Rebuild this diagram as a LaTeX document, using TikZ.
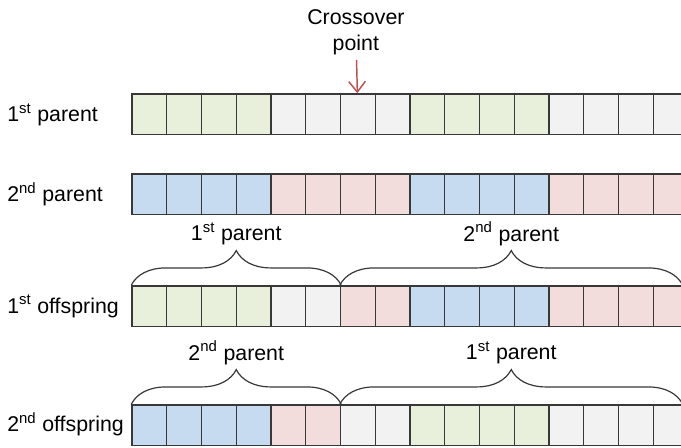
\documentclass[tikz,border=0pt]{standalone}
\usepackage{fontspec}
\setmainfont{Liberation Sans}
\usetikzlibrary{positioning,arrows.meta,decorations.pathreplacing}

\definecolor{geneg}{HTML}{E8F0DC}
\definecolor{genew}{HTML}{F2F2F2}
\definecolor{geneb}{HTML}{C6DAF0}
\definecolor{genep}{HTML}{F2DCDC}
\definecolor{cellline}{HTML}{383838}
\definecolor{cutred}{HTML}{C0504D}

\tikzset{
  cell/.style={draw=cellline, line width=1.1pt, minimum width=26.06pt,
    minimum height=30.4pt, inner sep=0pt},
  rowname/.style={anchor=west, inner sep=0pt},
  bracegroup/.style={draw=cellline, line width=0.9pt, decorate,
    decoration={brace, amplitude=26pt}},
  bracename/.style={midway, yshift=38.5pt},
  cutarrow/.style={draw=cutred, line width=1.1pt,
    -{Straight Barb[length=8pt,width=12.5pt]}}
}

\begin{document}
\begin{tikzpicture}[x=0.75pt, y=-0.75pt, font=\fontsize{16}{20}\selectfont]
		\clip (0,0) rectangle (681,447);
		% % Chromosomes, one cell per gene
		 	\foreach \r/\y/\cols in {
  		 		p1/114.25/{g,g,g,g,w,w,w,w,g,g,g,g,w,w,w,w},
  		 		p2/194.25/{b,b,b,b,p,p,p,p,b,b,b,b,p,p,p,p},
  		 		o1/306.25/{g,g,g,g,w,w,p,p,b,b,b,b,p,p,p,p},
  		 		o2/425.25/{b,b,b,b,p,p,w,w,g,g,g,g,w,w,w,w}}{
  		 		\foreach \c [count=\i] in \cols {
    	 			\node[cell, fill=gene\c] (\r-\i) at ({132+(\i-0.5)*34.75},\y) {};
  		 		}
		 	}
		% % Row names
		 	\node[rowname] (n-p1) at (7,115) {1\textsuperscript{st} parent};
		 	\node[rowname] (n-p2) at (7,194.25) {2\textsuperscript{nd} parent};
		 	\node[rowname] (n-o1) at (7,306.25) {1\textsuperscript{st} offspring};
		 	\node[rowname] (n-o2) at (7,424) {2\textsuperscript{nd} offspring};
		% % Crossover point
		 	\node[align=center, above=25pt of p1-7, xshift=-1.5pt] (xpoint) {Crossover\\point};
		 	\draw[cutarrow] (xpoint) -- (p1-7);
		% % Where the offspring genes come from
		 	\draw[bracegroup] (o1-1.north west) -- (o1-6.north east)
		 		node[bracename] (b-o1a) {1\textsuperscript{st} parent};
		 	\draw[bracegroup] (o1-7.north west) -- ([xshift=-4.5pt]o1-16.north east)
		 		node[bracename] (b-o1b) {2\textsuperscript{nd} parent};
		 	\draw[bracegroup] (o2-1.north west) -- (o2-6.north east)
		 		node[bracename] (b-o2a) {2\textsuperscript{nd} parent};
		 	\draw[bracegroup] (o2-7.north west) -- ([xshift=-4.5pt]o2-16.north east)
		 		node[bracename] (b-o2b) {1\textsuperscript{st} parent};
\end{tikzpicture}
\end{document}
